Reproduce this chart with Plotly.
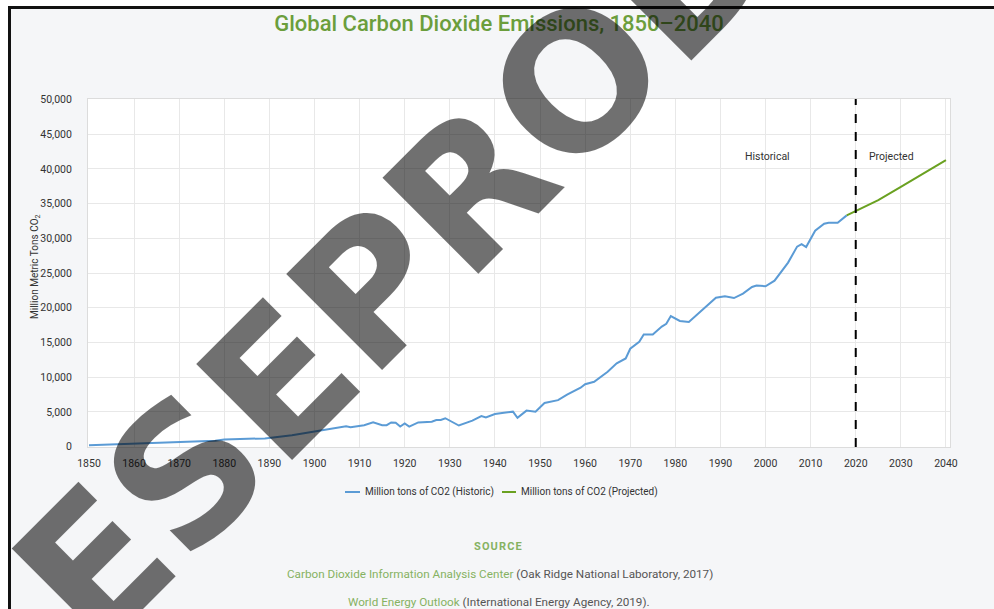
import plotly.graph_objects as go

# Historic emissions (million metric tons CO2)
hist_years = [1850, 1860, 1870, 1878, 1880, 1889, 1895, 1900, 1903, 1907, 1908, 1911,
              1913, 1915, 1916, 1917, 1918, 1919, 1920, 1921, 1923, 1926, 1927, 1928,
              1929, 1932, 1935, 1937, 1938, 1940, 1942, 1944, 1945, 1947, 1949, 1951,
              1954, 1956, 1959, 1960, 1962, 1965, 1967, 1969, 1970, 1972, 1973, 1975,
              1977, 1978, 1979, 1981, 1983, 1986, 1989, 1991, 1993, 1995, 1997, 1998,
              2000, 2002, 2005, 2007, 2008, 2009, 2011, 2013, 2014, 2016, 2018]
hist_values = [200, 400, 700, 850, 1050, 1200, 1650, 2150, 2500, 2950, 2800, 3100,
               3500, 3100, 3100, 3500, 3450, 2900, 3350, 2900, 3500, 3600, 3850, 3850,
               4100, 3050, 3750, 4400, 4200, 4700, 4900, 5050, 4150, 5200, 5050, 6300,
               6700, 7500, 8500, 9000, 9350, 10800, 12000, 12700, 14100, 15100, 16150, 16150,
               17300, 17700, 18800, 18100, 17950, 19650, 21450, 21650, 21400, 22050, 23000, 23200,
               23100, 23900, 26500, 28800, 29150, 28750, 31100, 32100, 32250, 32250, 33300]

# Projected emissions
proj_years = [2018, 2020, 2025, 2030, 2035, 2040]
proj_values = [33300, 33900, 35500, 37400, 39300, 41250]

x_ticks = list(range(1850, 2041, 10))
y_ticks = list(range(0, 50001, 5000))

BLUE = "#5b9bd5"
GREEN = "#6aa121"
TITLE_GREEN = "#6b9e3c"
LINK_GREEN = "#86b262"
BG = "#f5f6f8"
TEXT = "#333"
FONT = "Roboto, sans-serif"

W, H = 994, 609
ML, MR, MT, MB = 88, 44, 99, 162
PW, PH = W - ML - MR, H - MT - MB


def px(xp):
    return (xp - ML) / PW


def py(yp):
    return (H - MB - yp) / PH


def note(text, xp, yp, size, color=TEXT, xanchor="center", family=FONT, angle=0):
    return dict(text=text, x=px(xp), y=py(yp), xref="paper", yref="paper",
                xanchor=xanchor, yanchor="middle", showarrow=False, textangle=angle,
                font=dict(family=family, size=size, color=color))


fig = go.Figure()
fig.add_trace(go.Scatter(x=hist_years, y=hist_values, mode="lines",
                         line=dict(color=BLUE, width=2), name="Million tons of CO2 (Historic)"))
fig.add_trace(go.Scatter(x=proj_years, y=proj_values, mode="lines",
                         line=dict(color=GREEN, width=2), name="Million tons of CO2 (Projected)"))

shapes = [
    # divider between historic and projected periods
    dict(type="line", xref="x", yref="paper", x0=2020, x1=2020, y0=0, y1=1,
         line=dict(color="black", width=2, dash="dash")),
    # outer frame
    dict(type="rect", xref="paper", yref="paper", x0=px(-5), x1=px(W + 5), y0=py(-5), y1=py(6),
         fillcolor="white", line=dict(width=0), layer="below"),
    dict(type="rect", xref="paper", yref="paper", x0=px(-5), x1=px(8), y0=py(-5), y1=py(H + 5),
         fillcolor="white", line=dict(width=0), layer="below"),
    dict(type="line", xref="paper", yref="paper", x0=px(8), x1=px(W + 5), y0=py(7.5), y1=py(7.5),
         line=dict(color="#111", width=3)),
    dict(type="line", xref="paper", yref="paper", x0=px(9.5), x1=px(9.5), y0=py(6), y1=py(H + 5),
         line=dict(color="#111", width=3)),
    # legend swatches
    dict(type="line", xref="paper", yref="paper", x0=px(345), x1=px(360), y0=py(492), y1=py(492),
         line=dict(color=BLUE, width=2)),
    dict(type="line", xref="paper", yref="paper", x0=px(502), x1=px(516), y0=py(492), y1=py(492),
         line=dict(color=GREEN, width=2)),
]

annotations = [
    dict(text="Historical", x=2000.5, y=41800, xref="x", yref="y", showarrow=False,
         xanchor="center", yanchor="middle", font=dict(family=FONT, size=10.5, color=TEXT)),
    dict(text="Projected", x=2028, y=41800, xref="x", yref="y", showarrow=False,
         xanchor="center", yanchor="middle", font=dict(family=FONT, size=10.5, color=TEXT)),
    note("Million Metric Tons CO<sub>2</sub>", 35, 267, 10, angle=-90),
    note("Million tons of CO2 (Historic)", 363, 492, 10, xanchor="left"),
    note("Million tons of CO2 (Projected)", 519, 492, 10, xanchor="left"),
    note("<b>S\u200aO\u200aU\u200aR\u200aC\u200aE</b>", 498, 546, 11, color=LINK_GREEN),
    note(f"<span style='color:{LINK_GREEN}'>Carbon Dioxide Information Analysis Center</span>"
         " (Oak Ridge National Laboratory, 2017)", 499.5, 574, 11.7, color="#555"),
    note(f"<span style='color:{LINK_GREEN}'>World Energy Outlook</span>"
         " (International Energy Agency, 2019).", 499, 602, 11.7, color="#555"),
    # diagonal stamp across the page
    dict(text="<b>ESEPROD</b>", x=px(396), y=py(264), xref="paper", yref="paper",
         xanchor="center", yanchor="middle", showarrow=False, textangle=-45,
         font=dict(family="DejaVu Sans, sans-serif", size=186, color="rgba(0,0,0,0.56)")),
]

fig.update_layout(
    width=W, height=H,
    margin=dict(l=ML, r=MR, t=MT, b=MB, autoexpand=False),
    paper_bgcolor=BG, plot_bgcolor="white",
    showlegend=False,
    title=dict(text="Global Carbon Dioxide Emissions, 1850\u20132040",
               x=499 / W, xref="container", xanchor="center", y=1 - 23 / H, yanchor="middle",
               font=dict(family=FONT, size=22, color=TITLE_GREEN, weight=500)),
    shapes=shapes, annotations=annotations,
)
fig.update_xaxes(range=[1849.78, 2040.9], tickvals=x_ticks, showgrid=True, gridcolor="#e8e8e8",
                 zeroline=False, showline=True, linecolor="#dcdcdc", mirror=True, ticks="",
                 ticklabelstandoff=6, tickfont=dict(family=FONT, size=10.5, color=TEXT))
fig.update_yaxes(range=[-40, 50050], tickvals=y_ticks, tickformat=",", showgrid=True,
                 gridcolor="#e8e8e8", zeroline=False, showline=True, linecolor="#dcdcdc",
                 mirror=True, ticks="", ticklabelstandoff=13,
                 tickfont=dict(family=FONT, size=10.5, color=TEXT))

fig.write_html("out.html")
